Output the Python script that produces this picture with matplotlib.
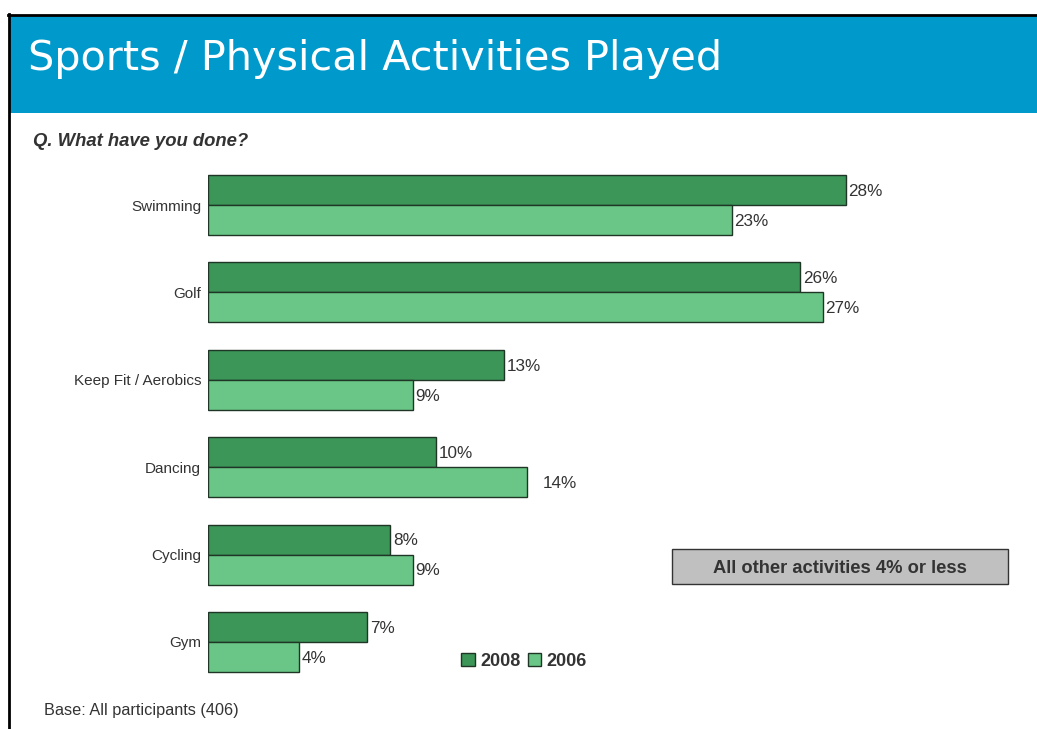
import matplotlib
matplotlib.use("Agg")
import matplotlib.pyplot as plt
from matplotlib.patches import Rectangle, Patch
from matplotlib.lines import Line2D
import numpy as np

plt.rcParams['font.family'] = ['Liberation Sans', 'DejaVu Sans']

# survey results, share of participants (%)
activities = ['Swimming', 'Golf', 'Keep Fit / Aerobics', 'Dancing', 'Cycling', 'Gym']
pct_2008 = [28, 26, 13, 10, 8, 7]
pct_2006 = [23, 27, 9, 14, 9, 4]
years = ['2008', '2006']

W, H = 1037, 729
DARK = '#3c9658'
LIGHT = '#6ac687'
EDGE = '#1f3526'
TXT = '#333333'


def fx(x):
    return x / W


def fy(y):
    return 1 - y / H


fig = plt.figure(figsize=(W / 100, H / 100), dpi=100)

# header band and frame lines
fig.add_artist(Rectangle((fx(9), fy(113)), 1 - fx(9), fy(16) - fy(113),
                         transform=fig.transFigure, facecolor='#0099cc',
                         edgecolor='none'))
fig.add_artist(Line2D([fx(8), 1], [fy(15), fy(15)], transform=fig.transFigure,
                      color='black', lw=2))
fig.add_artist(Line2D([fx(9), fx(9)], [0, fy(14)], transform=fig.transFigure,
                      color='black', lw=2))

fig.text(fx(28), fy(59), 'Sports / Physical Activities Played', color='white',
         fontsize=29.8, va='center', ha='left', family='DejaVu Sans')
fig.text(fx(33), fy(142), 'Q. What have you done?', color=TXT, fontsize=13.3,
         fontweight='bold', fontstyle='italic', va='center')
fig.text(fx(44), fy(710), 'Base: All participants (406)', color=TXT,
         fontsize=11.7, va='center')

# bar chart
ax = fig.add_axes([fx(208), fy(685.7), fx(1005) - fx(208), fy(161.3) - fy(685.7)])
y = np.arange(len(activities))
h = 0.343
ax.barh(y - h / 2, pct_2008, height=h, color=DARK, edgecolor=EDGE, lw=1)
ax.barh(y + h / 2, pct_2006, height=h, color=LIGHT, edgecolor=EDGE, lw=1)
ax.set_xlim(0, 35)
ax.set_ylim(len(activities) - 0.5, -0.5)
ax.set_yticks(y)
ax.set_yticklabels(activities, fontsize=11, color=TXT)
ax.tick_params(axis='y', length=0, pad=5)
ax.set_xticks([])
for s in ax.spines.values():
    s.set_visible(False)

for vals, off in ((pct_2008, -h / 2), (pct_2006, h / 2)):
    for i, v in enumerate(vals):
        # Dancing 2006 label sits a little further out
        pad = 0.7 if (off > 0 and activities[i] == 'Dancing') else 0.12
        ax.text(v + pad, i + off + 0.015, f'{v}%', va='center', ha='left',
                fontsize=12.3, color=TXT)

# note box
fig.add_artist(Rectangle((fx(672), fy(584)), fx(1008) - fx(672), fy(549) - fy(584),
                         transform=fig.transFigure, facecolor='#c0c0c0',
                         edgecolor='#333333', lw=1))
fig.text(fx(840), fy(568.5), 'All other activities 4% or less', color=TXT,
         fontsize=13.2, fontweight='bold', ha='center', va='center')

handles = [Patch(facecolor=DARK, edgecolor=EDGE), Patch(facecolor=LIGHT, edgecolor=EDGE)]
leg = fig.legend(handles, years, loc='center', bbox_to_anchor=(fx(524), fy(661)),
                 ncol=2, frameon=False, handlelength=0.75, handleheight=0.75,
                 columnspacing=0.4, handletextpad=0.3,
                 prop={'weight': 'bold', 'size': 13})
for t in leg.get_texts():
    t.set_color(TXT)

fig.savefig('out.png', dpi=100)
